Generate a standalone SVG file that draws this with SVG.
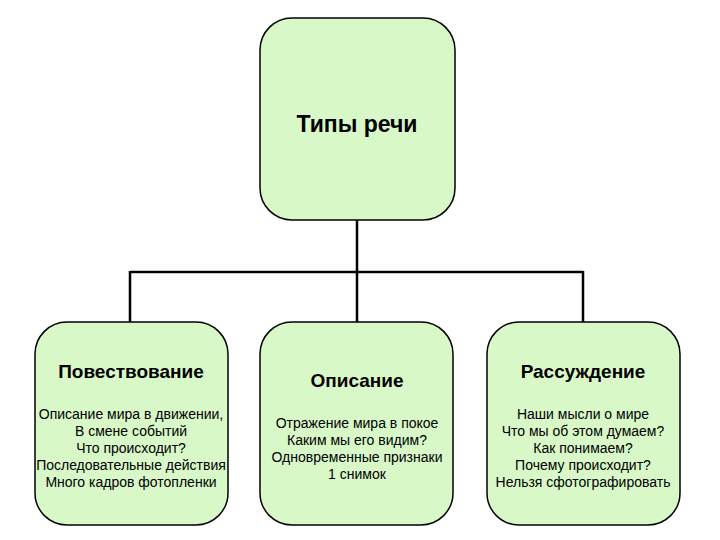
<svg xmlns="http://www.w3.org/2000/svg" width="720" height="540" viewBox="0 0 720 540">
<style>
.n{fill:#d8f8c8;stroke:#000;stroke-width:1.5}
.t{font-family:"Liberation Sans",Arial,sans-serif;text-anchor:middle;fill:#000}
.h{font-weight:bold;font-size:19px}
.b{font-size:14px}
.c{stroke:#000;stroke-width:2.5;fill:none}
</style>
<rect width="720" height="540" fill="#fff"/>
<g id="connectors">
<path class="c" d="M357 220V272M130 272H583M130 271V322M357 272V322M583 271V322"/>
</g>
<g id="root"><rect class="n" x="260" y="18" width="195" height="202" rx="32"/>
<text class="t" x="357" y="132" font-size="23" font-weight="bold">Типы речи</text></g>
<g id="narr"><rect class="n" x="35" y="322" width="193" height="203" rx="32"/>
<text class="t h" x="131" y="378">Повествование</text>
<text class="t b" x="131" y="419">Описание мира в движении,</text>
<text class="t b" x="131" y="436">В смене событий</text>
<text class="t b" x="131" y="453">Что происходит?</text>
<text class="t b" x="131" y="470">Последовательные действия</text>
<text class="t b" x="131" y="487">Много кадров фотопленки</text></g>
<g id="desc"><rect class="n" x="260" y="322" width="193" height="203" rx="32"/>
<text class="t h" x="357" y="387">Описание</text>
<text class="t b" x="357" y="428">Отражение мира в покое</text>
<text class="t b" x="357" y="445">Каким мы его видим?</text>
<text class="t b" x="357" y="462">Одновременные признаки</text>
<text class="t b" x="357" y="479">1 снимок</text></g>
<g id="reas"><rect class="n" x="487" y="322" width="193" height="203" rx="32"/>
<text class="t h" x="583" y="378">Рассуждение</text>
<text class="t b" x="583" y="419">Наши мысли о мире</text>
<text class="t b" x="583" y="436">Что мы об этом думаем?</text>
<text class="t b" x="583" y="453">Как понимаем?</text>
<text class="t b" x="583" y="470">Почему происходит?</text>
<text class="t b" x="583" y="487">Нельзя сфотографировать</text></g>
</svg>
